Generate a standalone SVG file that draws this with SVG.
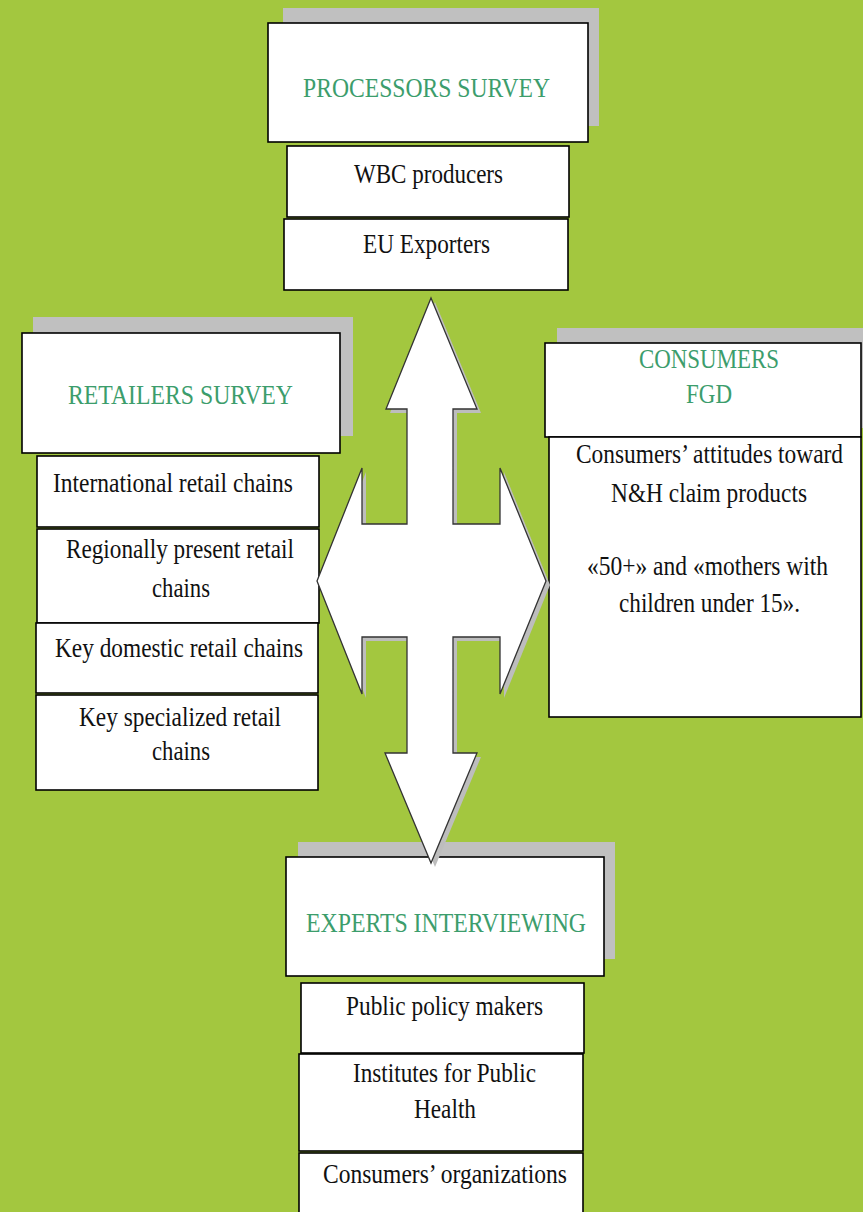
<svg xmlns="http://www.w3.org/2000/svg" width="863" height="1212" viewBox="0 0 863 1212">
<style>
.bg{fill:#a3c73f}
.sh{fill:#c0c0c0}
.box{fill:#fff;stroke:#000;stroke-width:1.6}
.t{font-family:"Liberation Serif","Times New Roman",serif;font-size:28px;fill:#111}
.g{font-family:"Liberation Serif","Times New Roman",serif;font-size:28px;fill:#3c9d6c}
.arr{fill:#fff;stroke:#333;stroke-width:1.3;stroke-linejoin:miter}
.arrsh{fill:#bdbdbd}
</style>
<rect class="bg" x="0" y="0" width="863" height="1212"/>

<g id="processors">
<rect class="sh" x="283" y="8" width="316" height="118"/>
<rect class="box" x="268" y="23" width="320" height="119"/>
<text class="g" x="303" y="97" textLength="247" lengthAdjust="spacingAndGlyphs">PROCESSORS SURVEY</text>
</g>
<g id="wbc">
<rect class="box" x="287" y="146" width="282" height="71"/>
<text class="t" x="354" y="183" textLength="149" lengthAdjust="spacingAndGlyphs">WBC producers</text>
</g>
<g id="eu">
<rect class="box" x="284" y="219" width="284" height="71"/>
<text class="t" x="363" y="253" textLength="127" lengthAdjust="spacingAndGlyphs">EU Exporters</text>
</g>

<g id="retailers">
<rect class="sh" x="33" y="317" width="320" height="119"/>
<rect class="box" x="22" y="333" width="318" height="120"/>
<text class="g" x="68" y="404" textLength="225" lengthAdjust="spacingAndGlyphs">RETAILERS SURVEY</text>
</g>
<g id="intl">
<rect class="box" x="37" y="456" width="282" height="71"/>
<text class="t" x="53" y="492" textLength="240" lengthAdjust="spacingAndGlyphs">International retail chains</text>
</g>
<g id="regional">
<rect class="box" x="37" y="529" width="282" height="94"/>
<text class="t" x="66" y="558" textLength="228" lengthAdjust="spacingAndGlyphs">Regionally present retail</text>
<text class="t" x="152" y="597" textLength="58" lengthAdjust="spacingAndGlyphs">chains</text>
</g>
<g id="domestic">
<rect class="box" x="36" y="623" width="282" height="70"/>
<text class="t" x="55" y="657" textLength="248" lengthAdjust="spacingAndGlyphs">Key domestic retail chains</text>
</g>
<g id="specialized">
<rect class="box" x="36" y="695" width="282" height="95"/>
<text class="t" x="79" y="726" textLength="202" lengthAdjust="spacingAndGlyphs">Key specialized retail</text>
<text class="t" x="152" y="760" textLength="58" lengthAdjust="spacingAndGlyphs">chains</text>
</g>

<g id="consumers">
<rect class="sh" x="557" y="328" width="306" height="100"/>
<rect class="box" x="545" y="343" width="316" height="94"/>
<text class="g" x="639" y="368" textLength="140" lengthAdjust="spacingAndGlyphs">CONSUMERS</text>
<text class="g" x="686" y="403" textLength="46" lengthAdjust="spacingAndGlyphs">FGD</text>
</g>
<g id="attitudes">
<rect class="box" x="549" y="437" width="312" height="280"/>
<text class="t" x="576" y="463" textLength="267" lengthAdjust="spacingAndGlyphs">Consumers’ attitudes toward</text>
<text class="t" x="611" y="502" textLength="196" lengthAdjust="spacingAndGlyphs">N&amp;H claim products</text>
<text class="t" x="587" y="575" textLength="241" lengthAdjust="spacingAndGlyphs">«50+» and «mothers with</text>
<text class="t" x="619" y="612" textLength="181" lengthAdjust="spacingAndGlyphs">children under 15».</text>
</g>

<g id="experts">
<rect class="sh" x="298" y="842" width="317" height="117"/>
<rect class="box" x="286" y="857" width="318" height="119"/>
<text class="g" x="306" y="932" textLength="280" lengthAdjust="spacingAndGlyphs">EXPERTS INTERVIEWING</text>
</g>
<g id="policy">
<rect class="box" x="301" y="983" width="283" height="70"/>
<text class="t" x="346" y="1015" textLength="197" lengthAdjust="spacingAndGlyphs">Public policy makers</text>
</g>
<g id="institutes">
<rect class="box" x="299" y="1054" width="284" height="97"/>
<text class="t" x="353" y="1082" textLength="183" lengthAdjust="spacingAndGlyphs">Institutes for Public</text>
<text class="t" x="414" y="1118" textLength="62" lengthAdjust="spacingAndGlyphs">Health</text>
</g>
<g id="organizations">
<rect class="box" x="299" y="1153" width="284" height="70"/>
<text class="t" x="323" y="1183" textLength="244" lengthAdjust="spacingAndGlyphs">Consumers’ organizations</text>
</g>

<g id="connectors">
<polygon class="arrsh" transform="translate(4,4)" points="431,298 477,409 453,409 453,524 500,524 500,468 546,581 500,694 500,637 453,637 453,753 477,753 431,863 385,753 407,753 407,637 362,637 362,694 317,581 362,468 362,524 407,524 407,409 386,409"/>
<polygon class="arr" points="431,298 477,409 453,409 453,524 500,524 500,468 546,581 500,694 500,637 453,637 453,753 477,753 431,863 385,753 407,753 407,637 362,637 362,694 317,581 362,468 362,524 407,524 407,409 386,409"/>
</g>
</svg>
